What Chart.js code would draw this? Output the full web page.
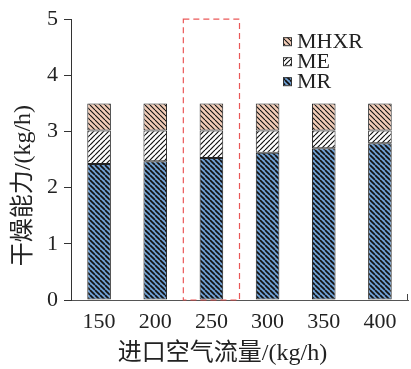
<!DOCTYPE html>
<html><head><meta charset="utf-8">
<script src="https://cdn.jsdelivr.net/npm/chart.js@4/dist/chart.umd.min.js"></script>
<style>html,body{margin:0;padding:0;background:#fff}#wrap{width:411px;height:369px}</style>
</head><body><div id="wrap"><canvas id="c" width="411" height="369"></canvas></div>
<script>
// Drying capacity split by component for each inlet air flow rate
const airFlow = ['150', '200', '250', '300', '350', '400'];
const mr   = [2.42, 2.47, 2.53, 2.62, 2.70, 2.79];
const me   = [0.60, 0.55, 0.49, 0.40, 0.32, 0.23];
const mhxr = [0.48, 0.48, 0.48, 0.48, 0.48, 0.48];
const yTicks = [0, 1, 2, 3, 4, 5];
const highlighted = '250';
const xTitle = '进口空气流量/(kg/h)';
const yTitle = '干燥能力/(kg/h)';

const FONT = "'Liberation Serif', 'Noto Sans CJK SC', serif";

// diagonal hatch tile: dir 1 = "\" , dir -1 = "/"
function hatch(bg, dir, size, lw) {
  const c = document.createElement('canvas');
  c.width = size; c.height = size;
  const g = c.getContext('2d');
  g.fillStyle = bg; g.fillRect(0, 0, size, size);
  g.strokeStyle = '#111'; g.lineWidth = lw;
  for (let k = -size; k <= size; k += size) {
    g.beginPath();
    if (dir > 0) { g.moveTo(k, 0); g.lineTo(k + size, size); }
    else { g.moveTo(k, size); g.lineTo(k + size, 0); }
    g.stroke();
  }
  return document.getElementById('c').getContext('2d').createPattern(c, 'repeat');
}

const patMR = hatch('#6f9fd2', 1, 5, 1.7);
const patME = hatch('#ffffff', -1, 5, 1.2);
const patMHXR = hatch('#f3cdb8', 1, 5, 1.1);

const series = [
  { label: 'MR', data: mr, backgroundColor: patMR },
  { label: 'ME', data: me, backgroundColor: patME },
  { label: 'MHXR', data: mhxr, backgroundColor: patMHXR }
];

const decor = {
  id: 'decor',
  beforeDatasetsDraw(chart) {
    const { ctx, scales: { x, y } } = chart;
    // dashed frame around the highlighted flow rate
    const i = airFlow.indexOf(highlighted);
    const half = (x.getPixelForValue(1) - x.getPixelForValue(0)) / 2;
    const cx = x.getPixelForValue(i);
    ctx.save();
    ctx.strokeStyle = 'rgba(232,70,70,0.9)';
    ctx.lineWidth = 1.2;
    ctx.setLineDash([6, 4]);
    ctx.strokeRect(cx - half, y.getPixelForValue(5), half * 2, y.getPixelForValue(0) - y.getPixelForValue(5));
    ctx.restore();
  },
  afterDraw(chart) {
    const { ctx, chartArea: a } = chart;
    ctx.save();
    // end tick on the x axis
    ctx.strokeStyle = '#444'; ctx.lineWidth = 1;
    ctx.beginPath(); ctx.moveTo(a.right - 0.5, a.bottom); ctx.lineTo(a.right - 0.5, a.bottom - 6); ctx.stroke();
    // axis titles
    ctx.fillStyle = '#222';
    ctx.font = '24px ' + FONT;
    ctx.textAlign = 'center'; ctx.textBaseline = 'middle';
    ctx.fillText(xTitle, (a.left + a.right) / 2 - 17, a.bottom + 54);
    ctx.translate(a.left - 47, (a.top + a.bottom) / 2 + 26);
    ctx.rotate(-Math.PI / 2);
    ctx.fillText(yTitle, 0, 0);
    ctx.restore();
    // legend
    ctx.save();
    ctx.font = '22px ' + FONT;
    ctx.textAlign = 'left'; ctx.textBaseline = 'middle';
    const items = chart.data.datasets.slice().reverse();
    items.forEach((d, k) => {
      const yy = a.top + 22 + k * 20;
      const bx = a.left + 212;
      ctx.fillStyle = d.backgroundColor;
      ctx.fillRect(bx, yy - 4, 8, 8);
      ctx.strokeStyle = '#333'; ctx.lineWidth = 1;
      ctx.strokeRect(bx + 0.5, yy - 3.5, 8, 8);
      ctx.fillStyle = '#222';
      ctx.fillText(d.label, bx + 14, yy + 1);
    });
    ctx.restore();
  }
};

new Chart(document.getElementById('c'), {
  type: 'bar',
  data: {
    labels: airFlow,
    datasets: series.map(s => ({
      ...s,
      borderColor: '#222',
      borderWidth: 1,
      borderSkipped: false,
      categoryPercentage: 1,
      barPercentage: 0.42
    }))
  },
  options: {
    responsive: false,
    animation: false,
    layout: { padding: { top: 19, right: 3, left: 0, bottom: 0 } },
    plugins: { legend: { display: false }, tooltip: { enabled: false } },
    scales: {
      x: {
        stacked: true,
        afterFit(s) { s.height = 69; },
        grid: { display: false, drawTicks: false },
        border: { display: true, color: '#555', width: 1 },
        ticks: { color: '#222', font: { family: FONT, size: 22 }, padding: 9 }
      },
      y: {
        stacked: true,
        min: 0, max: 5,
        afterFit(s) { s.width = 71; },
        afterBuildTicks(s) { s.ticks = yTicks.map(v => ({ value: v })); },
        grid: { drawOnChartArea: false, drawTicks: true, tickLength: 7, tickColor: '#333' },
        border: { display: true, color: '#333', width: 1 },
        ticks: { color: '#222', font: { family: FONT, size: 22 }, padding: 6 }
      }
    }
  },
  plugins: [decor]
});
</script>
</body></html>
